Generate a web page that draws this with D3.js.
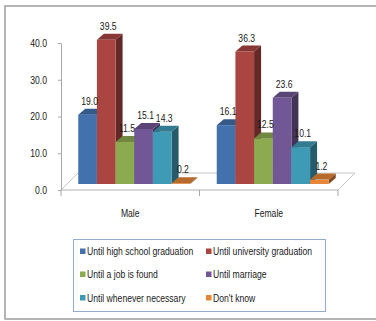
<!DOCTYPE html>
<html>
<head>
<meta charset="utf-8">
<script src="https://cdn.jsdelivr.net/npm/d3@7"></script>
<style>
  html, body { margin: 0; padding: 0; background: #fff; }
  svg { display: block; }
  text { font-family: "Liberation Sans", Arial, sans-serif; fill: #1a1a1a; }
</style>
</head>
<body>
<svg id="chart" width="376" height="321"></svg>
<script>
// Categories and series
const categories = ["Male", "Female"];
const seriesNames = [
  "Until high school graduation",
  "Until university graduation",
  "Until a job is found",
  "Until marriage",
  "Until whenever necessary",
  "Don't know"
];
const maleValues   = [19.0, 39.5, 11.5, 15.1, 14.3, 0.2];
const femaleValues = [16.1, 36.3, 12.5, 23.6, 10.1, 1.2];
const yTicks = [0, 10, 20, 30, 40];

// Series colours (front face; side and top faces are shaded from these)
const seriesColors = ["#4271ae", "#ab4542", "#8caa4f", "#715795", "#3f9bb5", "#e58638"];

const valuesByCategory = { Male: maleValues, Female: femaleValues };

const svg = d3.select("#chart");
const FONT_SIZE = 10.5;
const CONDENSE = 0.82;

// Narrow the text horizontally to a compact, Calibri-like width
function condense(sel) {
  sel.each(function () {
    const w = this.getComputedTextLength();
    d3.select(this)
      .attr("textLength", (w * CONDENSE).toFixed(2))
      .attr("lengthAdjust", "spacingAndGlyphs");
  });
}

// Outer chart frame
svg.append("rect")
  .attr("x", 5).attr("y", 6)
  .attr("width", 390).attr("height", 313)
  .attr("fill", "none")
  .attr("stroke", "#a3a3a3")
  .attr("stroke-width", 1.6);

// Plot geometry
const frontY = 190, floorDepthX = 17, floorDepthY = 17;
const barShiftX = 4, barBase = 184;
const barDx = 7, barDy = 6;           // bar's own depth
const groupWidth = 112;

const x0 = d3.scaleBand().domain(categories).range([61, 338]).padding(0);
const x1 = d3.scaleBand().domain(seriesNames)
  .range([(x0.bandwidth() - groupWidth) / 2, (x0.bandwidth() + groupWidth) / 2]);
const yAxisScale = d3.scaleLinear().domain([0, 40]).range([frontY, 43]);
const yBar = d3.scaleLinear().domain([0, 40]).range([barBase, 38]);

// Floor of the 3-D plot area
const [fx0, fx1] = x0.range();
svg.append("path")
  .attr("d", `M${fx0},${frontY}L${fx0 + floorDepthX},${frontY - floorDepthY}L${fx1 + floorDepthX},${frontY - floorDepthY}L${fx1},${frontY}`)
  .attr("fill", "none").attr("stroke", "#c4c4c4").attr("stroke-width", 1);
svg.append("line")
  .attr("x1", fx0).attr("x2", fx1).attr("y1", frontY).attr("y2", frontY)
  .attr("stroke", "#b0b0b0").attr("stroke-width", 1);

// Category boundary ticks
const boundaries = categories.map(c => x0(c)).concat([fx1]);
svg.selectAll("line.cat-tick").data(boundaries).join("line")
  .attr("class", "cat-tick")
  .attr("x1", d => d).attr("x2", d => d)
  .attr("y1", frontY).attr("y2", frontY + 6)
  .attr("stroke", "#a8a8a8");

// Category labels
svg.selectAll("text.cat").data(categories).join("text")
  .attr("class", "cat")
  .attr("x", d => x0(d) + x0.bandwidth() / 2)
  .attr("y", 217)
  .attr("text-anchor", "middle")
  .attr("font-size", FONT_SIZE)
  .text(d => d)
  .call(condense);

// Value axis
const yAxis = svg.append("g")
  .attr("transform", `translate(${fx0},0)`)
  .call(d3.axisLeft(yAxisScale).tickValues(yTicks).tickFormat(d3.format(".1f"))
    .tickSize(3).tickPadding(11).tickSizeOuter(0));
yAxis.select(".domain").attr("stroke", "#a8a8a8");
yAxis.selectAll(".tick line").attr("stroke", "#a8a8a8");
yAxis.selectAll(".tick text")
  .attr("font-size", FONT_SIZE)
  .style("font-family", '"Liberation Sans", Arial, sans-serif')
  .attr("fill", "#1a1a1a")
  .call(condense);

// Bars
const bars = [];
categories.forEach(cat => {
  valuesByCategory[cat].forEach((v, i) => {
    bars.push({ cat, series: seriesNames[i], value: v, color: seriesColors[i] });
  });
});

const barG = svg.append("g");
bars.forEach(b => {
  const left = x0(b.cat) + x1(b.series) + barShiftX;
  const right = left + x1.bandwidth();
  const top = yBar(b.value);
  const base = yBar(0);
  const c = d3.rgb(b.color);
  const g = barG.append("g");
  // side face
  g.append("path")
    .attr("d", `M${right},${base}L${right + barDx},${base - barDy}L${right + barDx},${top - barDy}L${right},${top}Z`)
    .attr("fill", c.darker(1.5));
  // front face
  g.append("rect")
    .attr("x", left).attr("y", top)
    .attr("width", right - left).attr("height", base - top)
    .attr("fill", c);
  // top face
  g.append("path")
    .attr("d", `M${left},${top}L${right},${top}L${right + barDx},${top - barDy}L${left + barDx},${top - barDy}Z`)
    .attr("fill", c.darker(0.65));
});

// Value labels
svg.selectAll("text.val").data(bars).join("text")
  .attr("class", "val")
  .attr("x", d => x0(d.cat) + x1(d.series) + barShiftX + x1.bandwidth() / 2 + 2)
  .attr("y", d => yBar(d.value) - 10)
  .attr("text-anchor", "middle")
  .attr("font-size", FONT_SIZE)
  .text(d => d3.format(".1f")(d.value))
  .call(condense);

// Legend
const legend = svg.append("g");
legend.append("rect")
  .attr("x", 73.5).attr("y", 239.5)
  .attr("width", 252).attr("height", 72)
  .attr("fill", "#fff")
  .attr("stroke", "#93aed0").attr("stroke-width", 1);
const colX = [80, 206];
const rowY = [251.5, 274.5, 298];
seriesNames.forEach((name, i) => {
  const cx = colX[i % 2], cy = rowY[Math.floor(i / 2)];
  legend.append("rect")
    .attr("x", cx).attr("y", cy - 3)
    .attr("width", 5.5).attr("height", 5.5)
    .attr("fill", seriesColors[i]);
  legend.append("text")
    .attr("x", cx + 7).attr("y", cy + 3.5)
    .attr("font-size", FONT_SIZE)
    .text(name)
    .call(condense);
});
</script>
</body>
</html>
